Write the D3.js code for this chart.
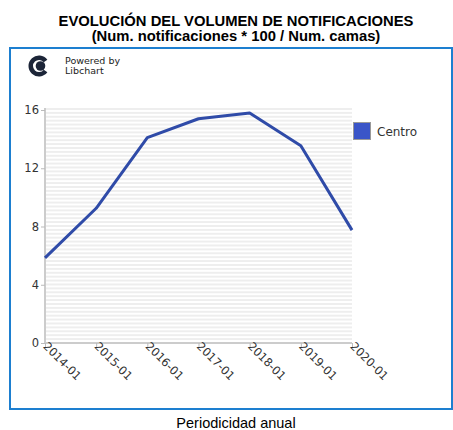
<!DOCTYPE html>
<html>
<head>
<meta charset="utf-8">
<script src="https://cdn.jsdelivr.net/npm/d3@7/dist/d3.min.js"></script>
<style>
	body {margin: 0; background: #fff;}
	svg {display: block;}
</style>
</head>
<body>
<div id="chart"></div>
<script>
	'use strict';

	// data
	var periods = ['2014-01', '2015-01', '2016-01', '2017-01', '2018-01', '2019-01', '2020-01'];
	var centro = [5.85, 9.25, 14.1, 15.4, 15.8, 13.55, 7.75];
	var yTicks = [0, 4, 8, 12, 16];
	var seriesName = 'Centro';

	var width = 453, height = 430;
	var plot = {left: 45, right: 352, top: 110, bottom: 343};

	var svg = d3.select('#chart').append('svg')
		.attr('width', width)
		.attr('height', height);

	// titles
	svg.append('text')
		.attr('x', 236).attr('y', 26)
		.attr('text-anchor', 'middle')
		.style('font', 'bold 14.8px "Liberation Sans", Arial, sans-serif')
		.text('EVOLUCIÓN DEL VOLUMEN DE NOTIFICACIONES');
	svg.append('text')
		.attr('x', 236).attr('y', 41)
		.attr('text-anchor', 'middle')
		.style('font', 'bold 14.8px "Liberation Sans", Arial, sans-serif')
		.text('(Num. notificaciones * 100 / Num. camas)');

	// frame
	svg.append('rect')
		.attr('x', 10).attr('y', 48)
		.attr('width', 442).attr('height', 361)
		.attr('fill', 'none')
		.attr('stroke', '#1d7fd0')
		.attr('stroke-width', 2);

	// logo (C opening to the right)
	var logo = svg.append('g').attr('transform', 'translate(39,66)');
	logo.append('path')
		.attr('d', d3.arc()({
			innerRadius: 6, outerRadius: 10.5,
			startAngle: Math.PI / 2 + 0.65,
			endAngle: Math.PI / 2 + 2 * Math.PI - 0.65}))
		.attr('fill', '#1c2538');
	logo.append('circle').attr('cx', 1.5).attr('r', 4.8).attr('fill', '#1c2538');
	svg.append('text').attr('x', 65).attr('y', 64)
		.style('font', '9.5px "DejaVu Sans", sans-serif').attr('fill', '#222')
		.text('Powered by');
	svg.append('text').attr('x', 65).attr('y', 74)
		.style('font', '9.5px "DejaVu Sans", sans-serif').attr('fill', '#222')
		.text('Libchart');

	var x = d3.scalePoint().domain(periods).range([plot.left, plot.right]);
	var y = d3.scaleLinear().domain([0, 16]).range([plot.bottom, plot.top]);

	// striped background
	var stripe = 3.9, sy;
	for (sy = plot.top - 2; sy < plot.bottom; sy += stripe) {
		svg.append('rect')
			.attr('x', plot.left).attr('y', sy)
			.attr('width', plot.right - plot.left).attr('height', stripe / 2)
			.attr('fill', '#eeeeee');}

	// axes
	var yAxis = svg.append('g')
		.attr('transform', 'translate(' + plot.left + ',0)')
		.call(d3.axisLeft(y).tickValues(yTicks).tickSize(4).tickPadding(2));
	var xAxis = svg.append('g')
		.attr('transform', 'translate(0,' + plot.bottom + ')')
		.call(d3.axisBottom(x).tickSize(4));

	[yAxis, xAxis].forEach(function(axis) {
		axis.select('.domain').attr('stroke', '#cccccc').attr('stroke-width', 2);
		axis.selectAll('.tick line').attr('stroke', '#bbbbbb');
		axis.selectAll('.tick text')
			.attr('fill', '#333')
			.style('font', '11.5px "DejaVu Sans", sans-serif');});
	yAxis.select('.domain').attr('d', 'M0,' + (plot.top - 2) + 'V' + plot.bottom);
	xAxis.select('.domain').attr('d', 'M' + plot.left + ',0H' + plot.right);

	xAxis.selectAll('.tick text')
		.attr('text-anchor', 'start')
		.attr('dy', null)
		.attr('y', 0)
		.attr('transform', 'translate(-3,4) rotate(45)');

	// series line
	var line = d3.line()
		.x(function(d, i) {return x(periods[i]);})
		.y(function(d) {return y(d);});
	svg.append('path')
		.datum(centro)
		.attr('d', line)
		.attr('fill', 'none')
		.attr('stroke', '#2f4ba8')
		.attr('stroke-width', 3)
		.attr('stroke-linejoin', 'round');

	// legend
	svg.append('rect')
		.attr('x', 353.5).attr('y', 122.5)
		.attr('width', 17).attr('height', 17)
		.attr('fill', '#3a55c8')
		.attr('stroke', '#999').attr('stroke-width', 1);
	svg.append('text')
		.attr('x', 377).attr('y', 136)
		.attr('fill', '#333')
		.style('font', '12px "DejaVu Sans", sans-serif')
		.text(seriesName);

	// x axis caption
	svg.append('text')
		.attr('x', 236).attr('y', 428)
		.attr('text-anchor', 'middle')
		.style('font', '14.5px "Liberation Sans", Arial, sans-serif')
		.text('Periodicidad anual');
</script>
</body>
</html>
